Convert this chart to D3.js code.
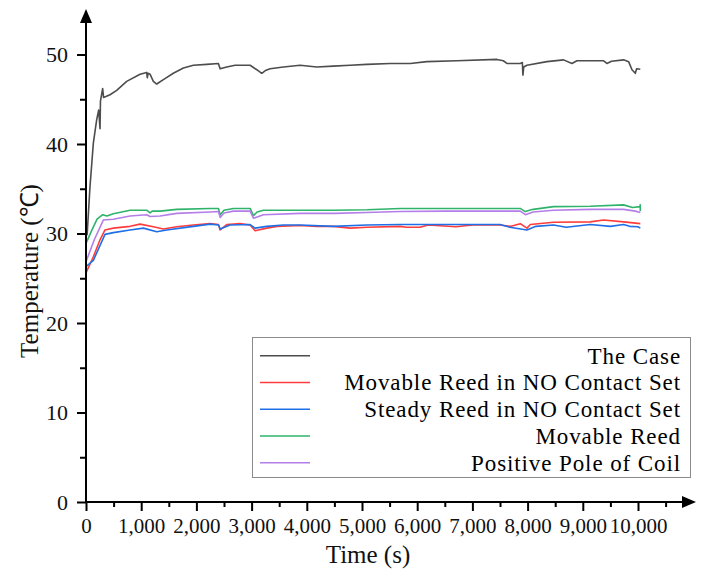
<!DOCTYPE html>
<html>
<head>
<meta charset="utf-8">
<script src="https://cdn.jsdelivr.net/npm/d3@7"></script>
<style>
html,body{margin:0;padding:0;background:#fff;}
svg{display:block;}
text{font-family:"Liberation Serif","Times New Roman",serif;fill:#111;}
</style>
</head>
<body>
<svg id="chart" width="703" height="576"></svg>
<script>
// ---- data (time in s, temperature in °C) ----
const seriesNames = ["The Case","Movable Reed in NO Contact Set","Steady Reed in NO Contact Set","Movable Reed","Positive Pole of Coil"];
const seriesColors = ["#4d4d4d","#ff3c3c","#1f6fe6","#2fb36b","#b47ee8"];

const caseTime = [20,72,133,193,230,254,262,302,318,360,435,556,737,979,1100,1110,1125,1160,1220,1281,1402,1582,1764,1945,2188,2398,2430,2550,2700,2973,3094,3184,3250,3335,3577,3879,4182,4477,4785,5088,5510,5873,6175,6719,7444,7560,7625,7867,7905,7915,7930,7988,8350,8652,8803,8894,9377,9437,9520,9739,9830,9891,9951,9975,10042];
const caseTemp = [29.8,35.2,40.1,42.7,43.8,41.7,44.8,46.2,45.2,45.3,45.5,46.0,47.0,47.8,48.0,47.4,47.9,47.8,47.0,46.7,47.2,47.9,48.5,48.8,48.9,49.0,48.4,48.6,48.8,48.8,48.3,47.9,48.2,48.4,48.6,48.8,48.6,48.7,48.8,48.9,49.0,49.0,49.2,49.3,49.45,49.3,49.0,49.0,49.1,47.7,48.6,48.8,49.2,49.4,49.0,49.3,49.3,49.0,49.25,49.4,49.2,48.3,47.9,48.4,48.35];

const movNOTime = [0,133,254,344,495,798,979,1220,1402,1644,1945,2248,2400,2430,2550,2791,2973,3063,3275,3456,3879,4182,4480,4785,5088,5691,5800,6050,6200,6700,7000,7500,7700,7867,7988,8050,8470,9135,9377,9739,10042];
const movNOTemp = [25.6,27.4,29.3,30.4,30.6,30.8,31.05,30.75,30.5,30.75,30.95,31.1,31.0,30.4,31.0,31.1,30.95,30.3,30.6,30.8,30.9,30.8,30.8,30.6,30.7,30.8,30.7,30.7,30.95,30.75,30.95,30.95,30.8,31.1,30.6,31.0,31.25,31.3,31.5,31.3,31.1];

const steadyNOTime = [0,133,344,495,798,1040,1281,1462,1945,2248,2400,2430,2610,2973,3063,3275,3577,3879,4480,5088,5691,6500,7500,7680,7988,8150,8470,8700,9135,9500,9739,9850,10000,10042];
const steadyNOTemp = [26.3,27.0,29.9,30.1,30.4,30.6,30.2,30.4,30.8,31.05,30.95,30.5,30.95,31.0,30.6,30.8,30.95,30.95,30.8,30.95,31.0,31.0,31.0,30.7,30.4,30.8,30.95,30.7,31.0,30.8,31.0,30.8,30.75,30.6];

const movReedTime = [0,100,200,302,380,495,798,1100,1160,1200,1341,1644,2248,2400,2430,2500,2670,2973,3033,3100,3214,3879,4500,5088,5691,6500,7200,7867,7957,8100,8470,9135,9739,9900,10035,10040,10042];
const movReedTemp = [28.9,30.3,31.6,32.1,31.95,32.2,32.6,32.6,32.3,32.5,32.5,32.7,32.8,32.8,32.1,32.6,32.8,32.8,32.0,32.4,32.6,32.6,32.6,32.65,32.8,32.8,32.8,32.8,32.45,32.7,33.0,33.05,33.2,32.9,33.0,33.2,32.5];

const coilTime = [0,150,314,495,798,1100,1160,1341,1644,2248,2400,2430,2500,2670,2973,3033,3214,3879,4500,5088,5691,6500,7867,7960,8100,8470,9135,9739,9950,10042];
const coilTemp = [26.85,29.3,31.5,31.6,31.95,32.1,31.9,31.95,32.25,32.4,32.45,31.8,32.3,32.5,32.5,31.7,32.1,32.25,32.25,32.35,32.45,32.5,32.5,32.1,32.4,32.6,32.7,32.7,32.5,32.35];

const xTicks = [0,1000,2000,3000,4000,5000,6000,7000,8000,9000,10000];
const xMinor = [500,1500,2500,3500,4500,5500,6500,7500,8500,9500,10500];
const yTicks = [0,10,20,30,40,50];
const yMinor = [5,15,25,35,45];

// ---- layout ----
const svg = d3.select("#chart");
const x = d3.scaleLinear().domain([0,10000]).range([86,638]);
const y = d3.scaleLinear().domain([0,50]).range([502,54.5]);

const series = [
  {t:caseTime, v:caseTemp},
  {t:movNOTime, v:movNOTemp},
  {t:steadyNOTime, v:steadyNOTemp},
  {t:movReedTime, v:movReedTemp},
  {t:coilTime, v:coilTemp}
];

const line = d3.line().x(d=>x(d[0])).y(d=>y(d[1]));
[3,4,1,2,0].forEach(i=>{
  const s = series[i];
  const pts = s.t.map((t,k)=>[t,s.v[k]]);
  svg.append("path").attr("d",line(pts)).attr("fill","none")
     .attr("stroke",seriesColors[i]).attr("stroke-width",1.6)
     .attr("stroke-linejoin","round");
});

// axes
const xAxis = d3.axisBottom(x).tickValues(xTicks).tickSize(9).tickPadding(7)
  .tickFormat(d3.format(","));
const gx = svg.append("g").attr("transform","translate(0,502)").call(xAxis)
  .attr("font-family","'Liberation Serif',serif");
gx.select(".domain").remove();
gx.selectAll(".tick line").attr("stroke","#000").attr("stroke-width",2);
gx.selectAll(".tick text").style("font-size","21px").attr("fill","#111");
const gxm = svg.append("g").attr("transform","translate(0,502)")
  .call(d3.axisBottom(x).tickValues(xMinor).tickSize(5).tickFormat(""));
gxm.select(".domain").remove();
gxm.selectAll(".tick line").attr("stroke","#000").attr("stroke-width",2);

const yAxis = d3.axisLeft(y).tickValues(yTicks).tickSize(9).tickPadding(9);
const gy = svg.append("g").attr("transform","translate(86,0)").call(yAxis)
  .attr("font-family","'Liberation Serif',serif");
gy.select(".domain").remove();
gy.selectAll(".tick line").attr("stroke","#000").attr("stroke-width",2);
gy.selectAll(".tick text").style("font-size","22px").attr("fill","#111");
const gym = svg.append("g").attr("transform","translate(86,0)")
  .call(d3.axisLeft(y).tickValues(yMinor).tickSize(6).tickFormat(""));
gym.select(".domain").remove();
gym.selectAll(".tick line").attr("stroke","#000").attr("stroke-width",2);

// axis lines with arrows
svg.append("line").attr("x1",86).attr("x2",86).attr("y1",503).attr("y2",22)
  .attr("stroke","#000").attr("stroke-width",2);
svg.append("path").attr("d","M86,9 L80,23 L92,23 Z").attr("fill","#000");
svg.append("line").attr("x1",85).attr("x2",682).attr("y1",502).attr("y2",502)
  .attr("stroke","#000").attr("stroke-width",2);
svg.append("path").attr("d","M696,502 L682,496 L682,508 Z").attr("fill","#000");

// axis titles
svg.append("text").attr("x",368).attr("y",563).attr("text-anchor","middle")
  .style("font-size","25px").text("Time (s)");
svg.append("text").attr("transform","translate(38,271) rotate(-90)")
  .attr("text-anchor","middle").style("font-size","25px").text("Temperature (℃)");

// legend
svg.append("rect").attr("x",252.5).attr("y",337.5).attr("width",438).attr("height",140)
  .attr("fill","#fff").attr("stroke","#8a8a8a").attr("stroke-width",1);
const legY = d3.scalePoint().domain(seriesNames).range([355.7,462.7]);
seriesNames.forEach((n,i)=>{
  const yy = legY(n);
  svg.append("line").attr("x1",260).attr("x2",310).attr("y1",yy).attr("y2",yy)
    .attr("stroke",seriesColors[i]).attr("stroke-width",1.6);
  svg.append("text").attr("x",681).attr("y",yy+8).attr("text-anchor","end")
    .style("font-size","23px").style("letter-spacing","0.9px").style("fill","#000").text(n);
});
</script>
</body>
</html>
